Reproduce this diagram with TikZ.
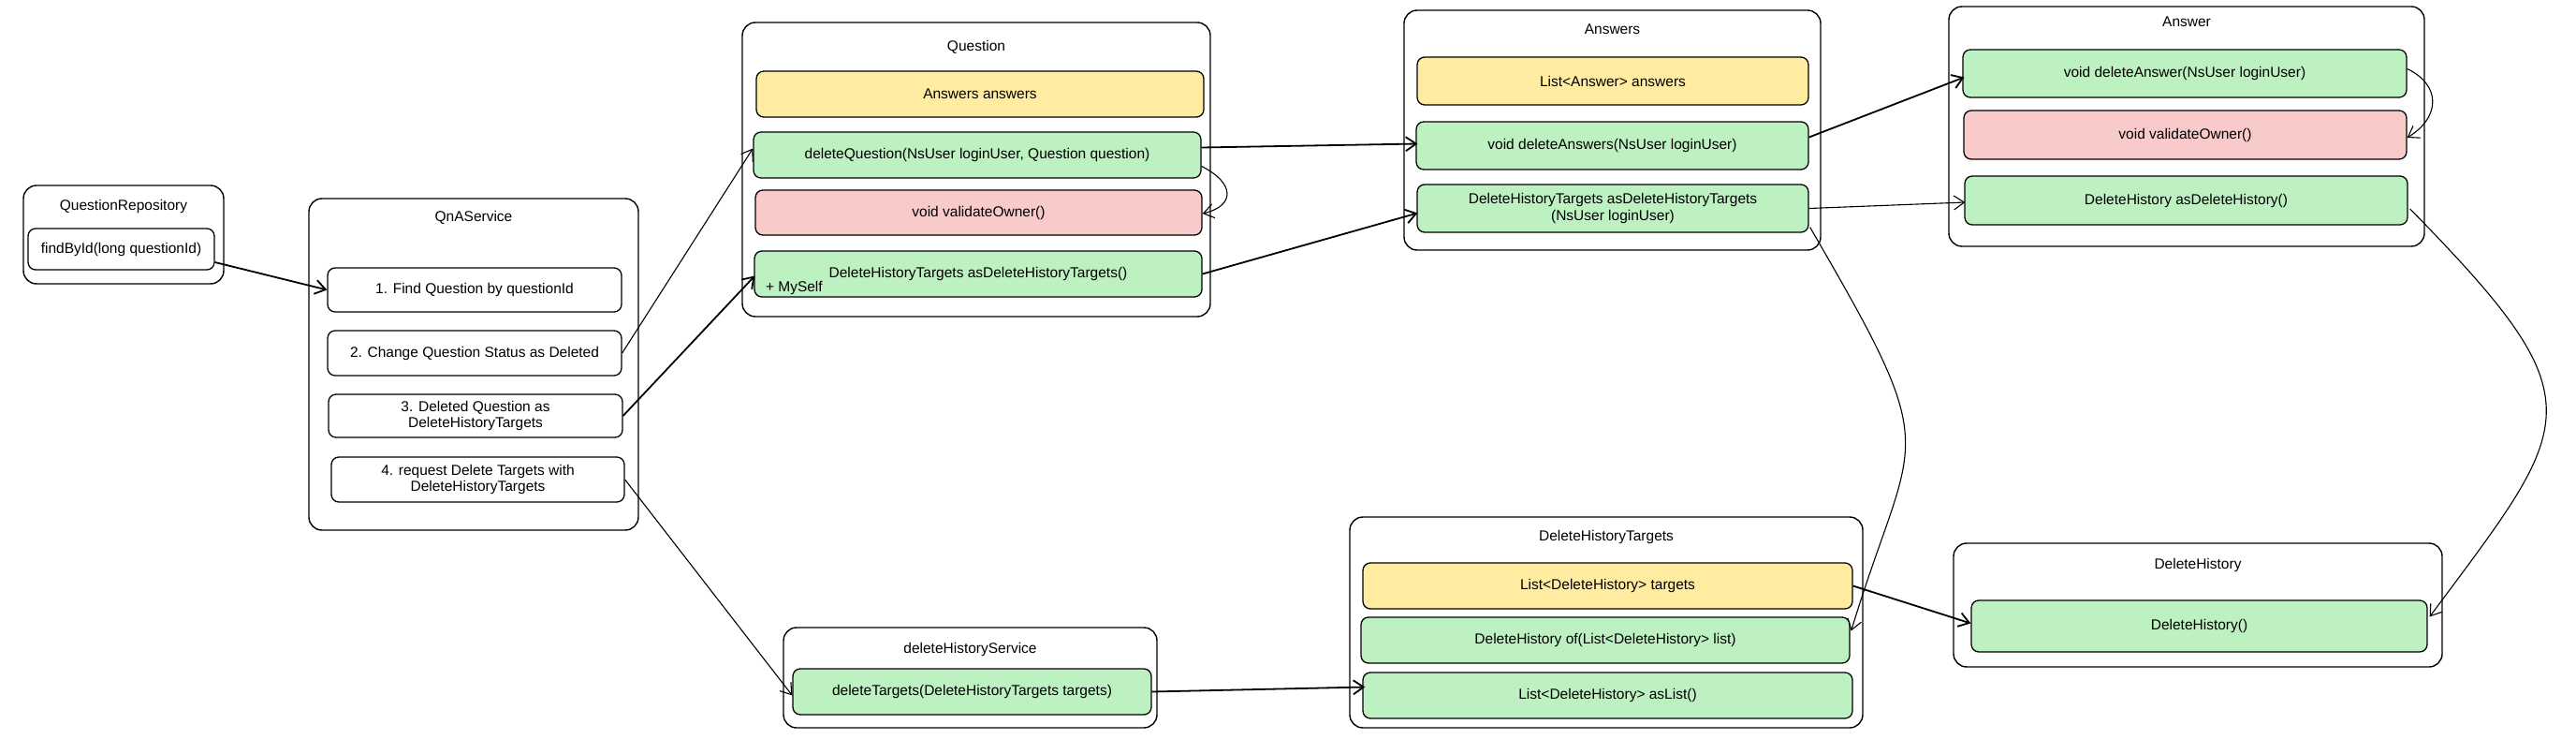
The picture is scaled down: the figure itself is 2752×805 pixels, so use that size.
\documentclass[tikz,border=0pt]{standalone}
\usepackage{fontspec}
\setmainfont{Liberation Sans}
\usetikzlibrary{arrows.meta,calc}

\definecolor{fieldYellow}{RGB}{255,236,160}
\definecolor{methodGreen}{RGB}{190,241,194}
\definecolor{guardRed}{RGB}{248,202,202}

\tikzset{every picture/.style={line width=1.3pt}}
\tikzset{
	class box/.style={draw, rounded corners=14pt, line width=1.4pt, inner sep=0pt},
	member/.style={draw, rounded corners=8pt, line width=1.3pt, align=center, inner sep=0pt, font=\fontsize{15.5}{17.5}\selectfont},
	plain member/.style={member, fill=white},
	field/.style={member, fill=fieldYellow},
	method/.style={member, fill=methodGreen},
	guard/.style={member, fill=guardRed},
	class title/.style={font=\fontsize{15.5}{17.5}\selectfont, inner sep=1pt},
	link/.style={line width=1.1pt, -{Straight Barb[length=11pt,width=15pt]}},
	strong link/.style={link, line width=1.8pt}}

\begin{document}
\begin{tikzpicture}[x=1pt,y=1pt,yscale=-1,xscale=1]
	\useasboundingbox (0,0) rectangle (2752,805);
	\fill[white] (0,0) rectangle (2752,805);

	%Shape: Rectangle [QuestionRepository]
	\node[class box, minimum width=214pt, minimum height=105pt] (repo) at (132,250.5) {};
	% Text Node
	\node[class title] (repoT) at (132,220) {QuestionRepository};
	\node[plain member, minimum width=199pt, minimum height=44pt] (repoFind) at (129.5,266) {findById(long questionId)};

	%Shape: Rectangle [QnAService]
	\node[class box, minimum width=352pt, minimum height=354pt] (qna) at (506,389) {};
	% Text Node
	\node[class title] (qnaT) at (506,232) {QnAService};
	\node[plain member, minimum width=314pt, minimum height=47pt] (qnaFind) at (507,309.5) {1. Find Question by questionId};
	\node[plain member, minimum width=314pt, minimum height=48pt] (qnaStatus) at (507,377) {2. Change Question Status as Deleted};
	\node[plain member, minimum width=314pt, minimum height=46pt] (qnaAsTargets) at (508,444) {3. Deleted Question as\\DeleteHistoryTargets};
	\node[plain member, minimum width=313pt, minimum height=48pt] (qnaRequest) at (510.5,512) {4. request Delete Targets with\\DeleteHistoryTargets};

	%Shape: Rectangle [Question]
	\node[class box, minimum width=500pt, minimum height=314pt] (quest) at (1043,181) {};
	% Text Node
	\node[class title] (questT) at (1043,50) {Question};
	\node[field, minimum width=478pt, minimum height=49pt] (qAnswers) at (1047,100.5) {Answers answers};
	\node[method, minimum width=478pt, minimum height=49pt] (qDelete) at (1044,165.5) {deleteQuestion(NsUser loginUser, Question question)};
	\node[guard, minimum width=477pt, minimum height=48pt] (qValidate) at (1045.5,227) {void validateOwner()};
	\node[method, minimum width=478pt, minimum height=49pt] (qTargets) at (1045,292.5) {DeleteHistoryTargets asDeleteHistoryTargets()};
	% Text Node
	\node[class title, anchor=south west] (qSelf) at ($(qTargets.south west)+(11,-1)$) {+ MySelf};

	%Shape: Rectangle [Answers]
	\node[class box, minimum width=445pt, minimum height=256pt] (ans) at (1722.5,139) {};
	% Text Node
	\node[class title] (ansT) at (1722.5,31) {Answers};
	\node[field, minimum width=418pt, minimum height=51pt] (aList) at (1723,86.5) {List<Answer> answers};
	\node[method, minimum width=419pt, minimum height=51pt] (aDelete) at (1722.5,155.5) {void deleteAnswers(NsUser loginUser)};
	\node[method, minimum width=418pt, minimum height=51pt] (aTargets) at (1723,222.5) {DeleteHistoryTargets asDeleteHistoryTargets\\(NsUser loginUser)};

	%Shape: Rectangle [Answer]
	\node[class box, minimum width=508pt, minimum height=256pt] (one) at (2336,135) {};
	% Text Node
	\node[class title] (oneT) at (2336,23) {Answer};
	\node[method, minimum width=474pt, minimum height=51pt] (oDelete) at (2334,78.5) {void deleteAnswer(NsUser loginUser)};
	\node[guard, minimum width=473pt, minimum height=52pt] (oValidate) at (2334.5,144) {void validateOwner()};
	\node[method, minimum width=473pt, minimum height=52pt] (oHistory) at (2335.5,214) {DeleteHistory asDeleteHistory()};

	%Shape: Rectangle [deleteHistoryService]
	\node[class box, minimum width=399pt, minimum height=107pt] (svc) at (1036.5,723.5) {};
	% Text Node
	\node[class title] (svcT) at (1036.5,693) {deleteHistoryService};
	\node[method, minimum width=383pt, minimum height=49pt] (svcDelete) at (1038.5,738.5) {deleteTargets(DeleteHistoryTargets targets)};

	%Shape: Rectangle [DeleteHistoryTargets]
	\node[class box, minimum width=548pt, minimum height=225pt] (dht) at (1716,664.5) {};
	% Text Node
	\node[class title] (dhtT) at (1716,573) {DeleteHistoryTargets};
	\node[field, minimum width=523pt, minimum height=49pt] (dhtList) at (1717.5,625.5) {List<DeleteHistory> targets};
	\node[method, minimum width=522pt, minimum height=49pt] (dhtOf) at (1715,683.5) {DeleteHistory of(List<DeleteHistory> list)};
	\node[method, minimum width=523pt, minimum height=49pt] (dhtAsList) at (1717.5,742.5) {List<DeleteHistory> asList()};

	%Shape: Rectangle [DeleteHistory]
	\node[class box, minimum width=522pt, minimum height=132pt] (hist) at (2348,646) {};
	% Text Node
	\node[class title] (histT) at (2348,603) {DeleteHistory};
	\node[method, minimum width=487pt, minimum height=55pt] (histNew) at (2349.5,668.5) {DeleteHistory()};

	%Straight Lines
	\draw[strong link] ($(repoFind.east)+(0,14)$) -- (qnaFind.west);
	\draw[link] (qnaStatus.east) -- ($(qDelete.west)+(0,-7)$);
	\draw[strong link] (qnaAsTargets.east) -- ($(qTargets.west)+(1,2)$);
	\draw[link] (qnaRequest.east) -- ($(svcDelete.west)+(0,4)$);
	\draw[strong link] ($(qDelete.east)+(0,-8)$) -- ($(aDelete.west)+(2,-2)$);
	\draw[strong link] (qTargets.east) -- ($(aTargets.west)+(1,5)$);
	\draw[strong link] ($(aDelete.east)+(0,-9)$) -- ($(oDelete.west)+(2,4)$);
	\draw[link] (aTargets.east) -- ($(oHistory.west)+(1,2)$);
	\draw[strong link] (dhtList.east) -- ($(histNew.west)+(0,-3)$);
	\draw[strong link] (svcDelete.east) -- ($(dhtAsList.west)+(3,-9)$);

	%Curve Lines
	\draw[link] ($(qDelete.east)+(0,12)$) .. controls +(36,18) and +(35,-8) .. ($(qValidate.east)+(0,1)$);
	\draw[link] ($(oDelete.east)+(0,-5)$) .. controls +(36,17) and +(36,-22) .. ($(oValidate.east)+(0,3)$);
	\draw[link] ($(aTargets.south east)+(1,-6)$) .. controls +(146.5,251.5) and +(66.5,-218.5) .. ($(dhtOf.east)+(1,-10)$);
	\draw[link] ($(oHistory.east)+(2,9)$) .. controls +(204,208) and +(156,-210) .. ($(histNew.east)+(2,-10)$);

\end{tikzpicture}
\end{document}
